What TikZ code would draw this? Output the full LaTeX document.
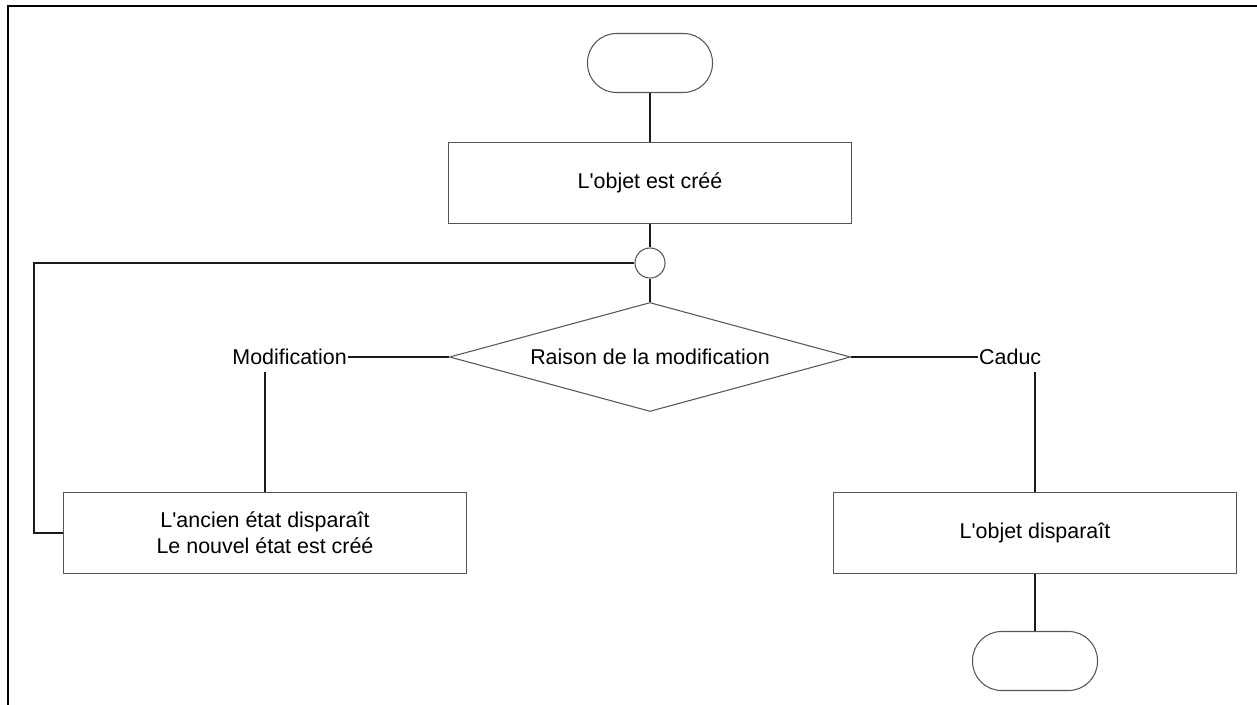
\documentclass[tikz,border=0pt]{standalone}
\usepackage{fontspec}
\setmainfont{Liberation Sans}
\usetikzlibrary{shapes.geometric}
\definecolor{edge}{HTML}{555555}
\definecolor{wire}{HTML}{1A1A1A}

\begin{document}
\begin{tikzpicture}[x=0.02cm,y=-0.02cm,
          font=\fontsize{12.2}{14.7}\selectfont,
          box/.style={draw=edge,line width=0.6pt,minimum width=8.06cm,minimum height=1.62cm,align=center},
          term/.style={draw=edge,line width=0.6pt,rounded corners=0.58cm,minimum width=2.5cm,minimum height=1.18cm},
          junc/.style={circle,draw=edge,line width=0.6pt,minimum size=0.6cm,inner sep=0pt},
          dec/.style={diamond,draw=edge,line width=0.6pt,aspect=3.68,minimum width=8.02cm,minimum height=2.18cm,inner sep=0pt},
          lbl/.style={inner xsep=0.5pt,inner ysep=4pt},
          wire/.style={draw=wire,line width=1pt},
          frame/.style={draw=black,line width=1.3pt}]
        \useasboundingbox (0,0) rectangle (1257,705);
        \draw[frame] (8,710) -- (8,6) -- (1262,6);
        \node[term] (start)   at (650,63) {};
        \node[box]  (created) at (650,183) {L\textquotesingle objet est créé};
        \node[junc] (merge)   at (650,263) {};
        \node[dec]  (reason)  at (650,357) {Raison de la modification};
        \node[lbl,anchor=east] (modif) at (348,357) {Modification};
        \node[lbl,anchor=west] (caduc) at (978,357) {Caduc};
        \node[box]  (renew)   at (265,533) {L\textquotesingle ancien état disparaît\\Le nouvel état est créé};
        \node[box]  (gone)    at (1035,533) {L\textquotesingle objet disparaît};
        \node[term] (stop)    at (1035,661) {};
        \coordinate (loop) at (34,263);
        \draw[wire] (start) -- (created);
        \draw[wire] (created) -- (merge);
        \draw[wire] (merge) -- (reason);
        \draw[wire] (merge.west) -- (loop) |- (renew.west);
        \draw[wire] (reason.west) -- (modif.east);
        \draw[wire] (reason.east) -- (caduc.west);
        \draw[wire] (renew.north |- modif.south) -- (renew.north);
        \draw[wire] (gone.north |- caduc.south) -- (gone.north);
        \draw[wire] (gone) -- (stop);
      \end{tikzpicture}
\end{document}
